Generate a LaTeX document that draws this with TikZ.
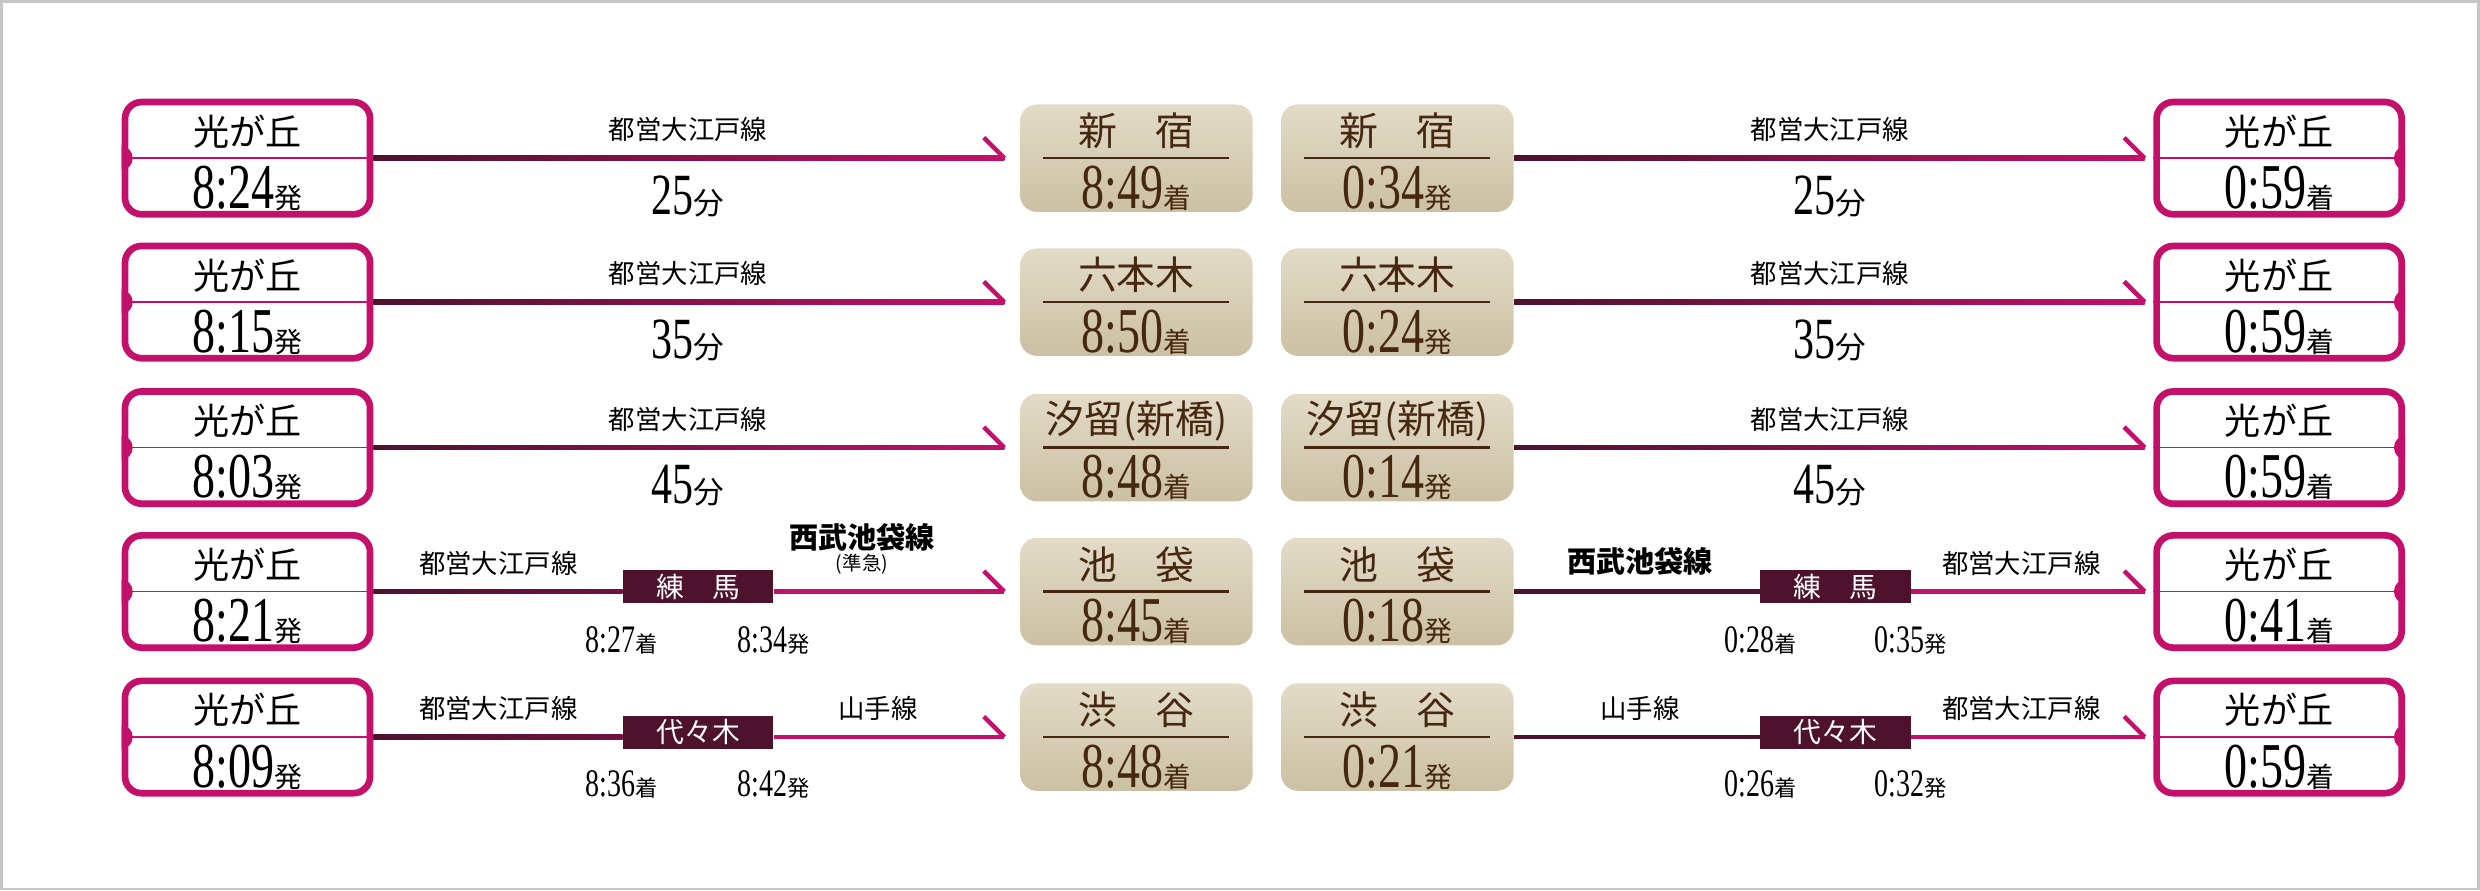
\documentclass[tikz,border=0pt]{standalone}
\usepackage{fontspec}
\usetikzlibrary{calc}
\newfontfamily\cjk{Noto Sans CJK JP}
\newfontfamily\numfont[FakeStretch=0.72]{Liberation Serif}
\definecolor{mag}{RGB}{196,16,106}
\definecolor{darkline}{RGB}{78,18,44}
\definecolor{beigetop}{RGB}{226,219,199}
\definecolor{beigebot}{RGB}{203,192,163}
\definecolor{brownink}{RGB}{70,40,15}
\newcommand{\suf}[1]{{\fontsize{10}{10}\cjk #1}}
\newcommand{\hometime}[2]{{\fontsize{23}{23}\numfont #1}\suf{#2}}
\newcommand{\homebox}[5]{% name, x, y, time, side of tab
	\node[homebox] (#1) at (#2,#3) {};
	\draw[mag, line width=0.5pt] (#1.west) -- (#1.east);
	\begin{scope}
	\clip (#1.south west) rectangle (#1.north east);
	\fill[mag] (#1.#5) ellipse (0.14cm and 0.15cm);
	\end{scope}
	\node[homename] at ($(#1.center)+(0,-17)$) {光が丘};
	\node[inner sep=0] at ($(#1.center)+(0,19)$) {#4};
}
\newcommand{\citybox}[5]{% name, x, y, station, time
	\node[citybox] (#1) at (#2,#3) {};
	\draw[brownink, line width=0.8pt] ($(#1.west)+(15,0)$) -- ($(#1.east)+(-15,0)$);
	\node[cityname] at ($(#1.center)+(0,-17)$) {#4};
	\node[inner sep=0, text=brownink] at ($(#1.center)+(0,19)$) {#5};
}
\tikzset{
	homebox/.style={draw=mag, line width=2.4pt, rounded corners=6pt, fill=white,
		minimum width=3.1cm, minimum height=1.42cm},
	citybox/.style={rounded corners=6pt, top color=beigetop, bottom color=beigebot,
		minimum width=2.94cm, minimum height=1.36cm},
	homename/.style={font=\fontsize{13}{13}\cjk, inner sep=0},
	cityname/.style={font=\fontsize{14}{14}\cjk, text=brownink, inner sep=0},
	linename/.style={font=\fontsize{9.5}{10}\cjk, inner sep=0},
	boldname/.style={font=\fontsize{10.5}{11}\cjk\bfseries, inner sep=0},
	minutes/.style={font=\fontsize{21}{21}\numfont, inner sep=0},
	xferbox/.style={fill=darkline, text=white, font=\fontsize{10}{10}\cjk,
		minimum width=1.9cm, minimum height=0.42cm, inner sep=0},
	xfertime/.style={font=\fontsize{14}{14}\numfont, inner sep=0},
	tick/.style={mag, line width=1.6pt},
}
\begin{document}
\begin{tikzpicture}[x=0.02cm,y=-0.02cm]
	\useasboundingbox (0,0) rectangle (1568,563);
	\draw[black!22, line width=0.8pt] (1,1) rectangle (1567,562);

	% start and end boxes
	\homebox{hA}{156.5}{100}{\hometime{8:24}{発}}{west}
	\homebox{hB}{156.5}{191}{\hometime{8:15}{発}}{west}
	\homebox{hC}{156.5}{283}{\hometime{8:03}{発}}{west}
	\homebox{hD}{156.5}{374}{\hometime{8:21}{発}}{west}
	\homebox{hE}{156.5}{466}{\hometime{8:09}{発}}{west}
	\homebox{rA}{1441}{100}{\hometime{0:59}{着}}{east}
	\homebox{rB}{1441}{191}{\hometime{0:59}{着}}{east}
	\homebox{rC}{1441}{283}{\hometime{0:59}{着}}{east}
	\homebox{rD}{1441}{374}{\hometime{0:41}{着}}{east}
	\homebox{rE}{1441}{466}{\hometime{0:59}{着}}{east}

	\citybox{dA}{718.5}{100}{新\quad 宿}{\hometime{8:49}{着}}
	\citybox{dB}{718.5}{191}{六本木}{\hometime{8:50}{着}}
	\citybox{dC}{718.5}{283}{汐留(新橋)}{\hometime{8:48}{着}}
	\citybox{dD}{718.5}{374}{池\quad 袋}{\hometime{8:45}{着}}
	\citybox{dE}{718.5}{466}{渋\quad 谷}{\hometime{8:48}{着}}
	\citybox{bA}{883.5}{100}{新\quad 宿}{\hometime{0:34}{発}}
	\citybox{bB}{883.5}{191}{六本木}{\hometime{0:24}{発}}
	\citybox{bC}{883.5}{283}{汐留(新橋)}{\hometime{0:14}{発}}
	\citybox{bD}{883.5}{374}{池\quad 袋}{\hometime{0:18}{発}}
	\citybox{bE}{883.5}{466}{渋\quad 谷}{\hometime{0:21}{発}}

	% direct rides
	\foreach \r/\y/\m in {A/100/25, B/191/35, C/283/45}{
		\coordinate (go\r) at (635,\y);
		\coordinate (back\r) at (1356,\y);
		\shade[left color=darkline, right color=mag] ($(h\r.east)+(0,-1.5)$) rectangle ($(go\r)+(0,1.5)$);
		\shade[left color=darkline, right color=mag] ($(b\r.east)+(0,-1.5)$) rectangle ($(back\r)+(0,1.5)$);
		\draw[tick] (go\r) -- ++(-13,-13);
		\draw[tick] (back\r) -- ++(-13,-13);
		\node[linename] at (435,\y-18) {都営大江戸線};
		\node[linename] at (1157,\y-18) {都営大江戸線};
		\node[minutes] at (435,\y+24) {\m{\fontsize{11}{11}\cjk 分}};
		\node[minutes] at (1157,\y+24) {\m{\fontsize{11}{11}\cjk 分}};
	}

	% rides with a change
	\node[xferbox] (xD) at (441.5,371) {練\quad 馬};
	\node[xferbox] (yD) at (1160.5,371) {練\quad 馬};
	\node[xferbox] (xE) at (441.5,463) {代々木};
	\node[xferbox] (yE) at (1160.5,463) {代々木};
	\foreach \r/\y in {D/374, E/466}{
		\coordinate (go\r) at (635,\y);
		\coordinate (back\r) at (1356,\y);
		\shade[left color=darkline, right color=darkline!70!mag] ($(h\r.east)+(0,-1.5)$) rectangle ($(x\r.west |- 0,\y)+(0,1.5)$);
		\fill[mag] ($(x\r.east |- 0,\y)+(0,-1.5)$) rectangle ($(go\r)+(0,1.5)$);
		\fill[darkline] ($(b\r.east)+(0,-1.5)$) rectangle ($(y\r.west |- 0,\y)+(0,1.5)$);
		\fill[mag] ($(y\r.east |- 0,\y)+(0,-1.5)$) rectangle ($(back\r)+(0,1.5)$);
		\draw[tick] (go\r) -- ++(-13,-13);
		\draw[tick] (back\r) -- ++(-13,-13);
		\node[linename] at (315,\y-18) {都営大江戸線};
		\node[linename] at (1278,\y-18) {都営大江戸線};
	}
	\node[boldname] at (545,340) {西武池袋線};
	\node[font=\fontsize{7}{7}\cjk, inner sep=0] at (545,357) {(準急)};
	\node[boldname] at (1037,355) {西武池袋線};
	\node[linename] at (555,448) {山手線};
	\node[linename] at (1037,448) {山手線};

	\node[xfertime] at (393,405) {8:27{\fontsize{8}{8}\cjk 着}};
	\node[xfertime] at (489,405) {8:34{\fontsize{8}{8}\cjk 発}};
	\node[xfertime] at (1113,405) {0:28{\fontsize{8}{8}\cjk 着}};
	\node[xfertime] at (1208,405) {0:35{\fontsize{8}{8}\cjk 発}};
	\node[xfertime] at (393,496) {8:36{\fontsize{8}{8}\cjk 着}};
	\node[xfertime] at (489,496) {8:42{\fontsize{8}{8}\cjk 発}};
	\node[xfertime] at (1113,496) {0:26{\fontsize{8}{8}\cjk 着}};
	\node[xfertime] at (1208,496) {0:32{\fontsize{8}{8}\cjk 発}};
\end{tikzpicture}
\end{document}
